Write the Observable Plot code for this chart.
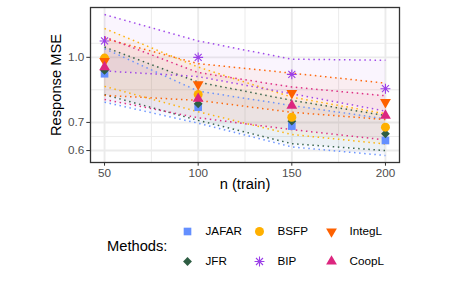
<!DOCTYPE html>
<html>
<head>
<meta charset="utf-8">
<script src="https://cdn.jsdelivr.net/npm/d3@7"></script>
<script src="https://cdn.jsdelivr.net/npm/@observablehq/plot@0.6"></script>
<style>
  html, body { margin: 0; padding: 0; background: #fff; }
  body { width: 449px; height: 287px; overflow: hidden; font-family: "Liberation Sans", Arial, sans-serif; }
  #wrap { position: relative; width: 449px; height: 287px; }
  #legend { position: absolute; left: 0; top: 200px; width: 449px; height: 87px; }
  #legtitle { position: absolute; left: 107px; top: 37px; font-size: 14.7px; color: #000; line-height: 18px; }
</style>
</head>
<body>
<div id="wrap">
  <div id="chart"></div>
  <div id="legend"><span id="legtitle">Methods:</span></div>
</div>
<script>
// ---- data ----
const nTrain = [50, 100, 150, 200];
const methods = ["JAFAR", "JFR", "BSFP", "BIP", "IntegL", "CoopL"];
const methodColors = ["#648FFF", "#2E5D43", "#FFB000", "#9B3FE8", "#FE6100", "#DC267F"];
const yTicks = [0.6, 0.7, 1.0];
const yMinorGrid = [0.648, 0.837, 1.08];
const xTicks = [50, 100, 150, 200];
const xMinorGrid = [75, 125, 175];

const JAFAR_mse = [0.914, 0.761, 0.686, 0.634];
const JAFAR_lo  = [0.782, 0.697, 0.612, 0.584];
const JAFAR_hi  = [1.049, 0.831, 0.768, 0.714];

const JFR_mse = [0.931, 0.775, 0.705, 0.658];
const JFR_lo  = [0.815, 0.708, 0.623, 0.600];
const JFR_hi  = [1.058, 0.873, 0.790, 0.727];

const BSFP_mse = [0.996, 0.816, 0.720, 0.682];
const BSFP_lo  = [0.853, 0.742, 0.655, 0.622];
const BSFP_hi  = [1.171, 0.948, 0.804, 0.734];

const BIP_mse = [1.094, 1.000, 0.911, 0.842];
const BIP_lo  = [0.928, 0.900, 0.819, 0.745];
const BIP_hi  = [1.264, 1.094, 0.990, 0.984];

const IntegL_mse = [0.980, 0.862, 0.822, 0.782];
const IntegL_lo  = [0.812, 0.790, 0.740, 0.711];
const IntegL_hi  = [1.108, 0.966, 0.917, 0.868];

const CoopL_mse = [0.948, 0.797, 0.768, 0.727];
const CoopL_lo  = [0.794, 0.718, 0.673, 0.636];
const CoopL_hi  = [1.118, 0.920, 0.850, 0.810];

const seriesMse = {JAFAR: JAFAR_mse, JFR: JFR_mse, BSFP: BSFP_mse, BIP: BIP_mse, IntegL: IntegL_mse, CoopL: CoopL_mse};
const seriesLo  = {JAFAR: JAFAR_lo, JFR: JFR_lo, BSFP: BSFP_lo, BIP: BIP_lo, IntegL: IntegL_lo, CoopL: CoopL_lo};
const seriesHi  = {JAFAR: JAFAR_hi, JFR: JFR_hi, BSFP: BSFP_hi, BIP: BIP_hi, IntegL: IntegL_hi, CoopL: CoopL_hi};

const rows = [];
methods.forEach(m => nTrain.forEach((n, i) => rows.push({method: m, n, mse: seriesMse[m][i], lo: seriesLo[m][i], hi: seriesHi[m][i]})));

// ---- symbols (ggplot shapes 15, 18, 16, 8, 25-ish, 17) ----
const rad = size => Math.sqrt(size / Math.PI);
const symSquare = {draw(c, size) { const s = rad(size) * 0.85; c.rect(-s, -s, 2 * s, 2 * s); }};
const symDiamond = {draw(c, size) { const r = rad(size) * 0.98; c.moveTo(0, -r); c.lineTo(r, 0); c.lineTo(0, r); c.lineTo(-r, 0); c.closePath(); }};
const symCircle = {draw(c, size) { const r = rad(size); c.moveTo(r, 0); c.arc(0, 0, r, 0, 2 * Math.PI); }};
const symTriUp = {draw(c, size) { const a = rad(size) * 2.4, h = a * 0.866; c.moveTo(0, -2 * h / 3); c.lineTo(a / 2, h / 3); c.lineTo(-a / 2, h / 3); c.closePath(); }};
const symTriDown = {draw(c, size) { const a = rad(size) * 2.4, h = a * 0.866; c.moveTo(0, 2 * h / 3); c.lineTo(a / 2, -h / 3); c.lineTo(-a / 2, -h / 3); c.closePath(); }};
const symStar = {draw(c, size) { const r = rad(size) * 1.1, d = r * 0.7071;
  c.moveTo(-r, 0); c.lineTo(r, 0); c.moveTo(0, -r); c.lineTo(0, r);
  c.moveTo(-d, -d); c.lineTo(d, d); c.moveTo(-d, d); c.lineTo(d, -d); }};
const symbols = {JAFAR: symSquare, JFR: symDiamond, BSFP: symCircle, BIP: symStar, IntegL: symTriDown, CoopL: symTriUp};

const colorScale = {domain: methods, range: methodColors};
const fontFamily = '"Liberation Sans", Arial, sans-serif';

function pointMarks(data, xk, yk, extra = {}) {
  return methods.map(m => {
    const d = data.filter(r => r.method === m);
    if (m === "BIP") return Plot.dot(d, {x: xk, y: yk, symbol: symbols[m], r: 4.5, fill: "none", stroke: "method", strokeWidth: 1.1, ...extra});
    return Plot.dot(d, {x: xk, y: yk, symbol: symbols[m], r: 4.5, fill: "method", stroke: "none", ...extra});
  });
}

const dotted = {strokeWidth: 1.5, strokeDasharray: "1.5,3.6", strokeLinecap: "butt", strokeOpacity: 0.95};

const chart = Plot.plot({
  width: 449, height: 200,
  marginLeft: 90, marginRight: 50, marginTop: 7, marginBottom: 38,
  style: {fontFamily, background: "#fff"},
  x: {domain: [42.5, 207.5], axis: null},
  y: {type: "log", domain: [0.562, 1.314], axis: null},
  color: colorScale,
  marks: [
    Plot.gridX(xMinorGrid, {stroke: "#ebebeb", strokeOpacity: 1, strokeWidth: 1}),
    Plot.gridY(yMinorGrid, {stroke: "#ebebeb", strokeOpacity: 1, strokeWidth: 1}),
    Plot.gridX(xTicks, {stroke: "#ebebeb", strokeOpacity: 1, strokeWidth: 1.9}),
    Plot.gridY(yTicks, {stroke: "#ebebeb", strokeOpacity: 1, strokeWidth: 1.9}),
    Plot.areaY(rows, {x: "n", y1: "lo", y2: "hi", fill: "method", z: "method", fillOpacity: 0.05}),
    Plot.lineY(rows, {x: "n", y: "hi", z: "method", stroke: "method", ...dotted}),
    Plot.lineY(rows, {x: "n", y: "lo", z: "method", stroke: "method", ...dotted}),
    ...pointMarks(rows, "n", "mse"),
    Plot.frame({stroke: "#333333", strokeWidth: 1.3}),
    Plot.axisX({ticks: xTicks, tickSize: 3.7, tickPadding: 2.5, fontSize: 11.7, stroke: "#333333", fill: "#4d4d4d", label: null}),
    Plot.axisY({ticks: yTicks, tickSize: 3.7, tickPadding: 2.5, fontSize: 11.7, stroke: "#333333", fill: "#4d4d4d", tickFormat: d => d.toFixed(1), label: null}),
    Plot.text(["n (train)"], {frameAnchor: "bottom", dy: 26, fontSize: 14.7, fill: "#000"}),
    Plot.text(["Response MSE"], {frameAnchor: "left", dx: -34, rotate: -90, textAnchor: "middle", fontSize: 14.7, fill: "#000"})
  ]
});
document.getElementById("chart").appendChild(chart);

// ---- legend ----
const legendRows = methods.map((m, i) => ({method: m, col: Math.floor(i / 2), row: i % 2}));
const legend = Plot.plot({
  width: 449, height: 87,
  margin: 0,
  style: {fontFamily, background: "transparent", overflow: "visible"},
  x: {type: "point", domain: [0, 1, 2], range: [186, 331], padding: 0, axis: null},
  y: {type: "point", domain: [0, 1], range: [31, 61], padding: 0, axis: null},
  color: colorScale,
  marks: [
    ...pointMarks(legendRows, "col", "row"),
    Plot.text(legendRows, {x: "col", y: "row", text: "method", dx: 18, textAnchor: "start", fontSize: 11.7, fill: "#000"})
  ]
});
legend.style.position = "absolute";
legend.style.left = "0px";
legend.style.top = "0px";
document.getElementById("legend").appendChild(legend);
</script>
</body>
</html>
